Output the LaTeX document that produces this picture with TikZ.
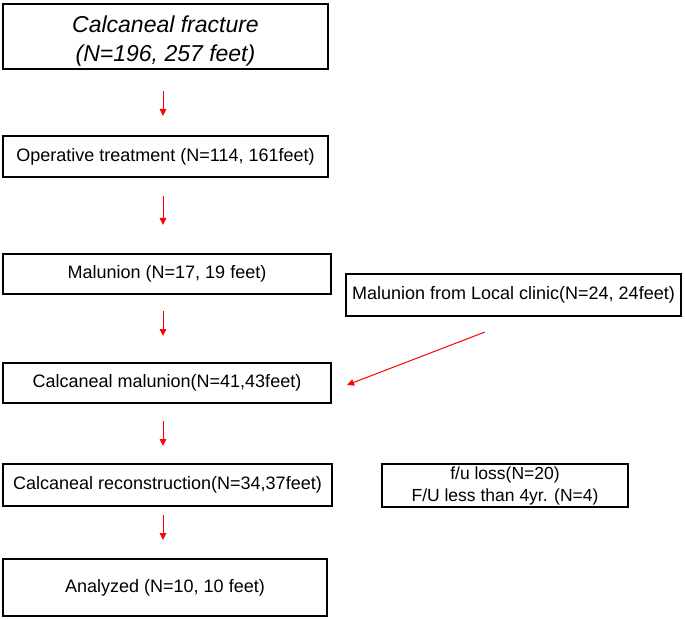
\documentclass[tikz,border=0pt]{standalone}
\usepackage{fontspec}
\setmainfont{Liberation Sans}
\usetikzlibrary{arrows.meta}
\begin{document}
\begin{tikzpicture}[x=1pt,y=-1pt,
  box/.style={draw=black,line width=2pt,rectangle,inner sep=0pt,align=center,font=\fontsize{18}{21}\selectfont},
  redarrow/.style={draw=red,line width=1pt,-{Triangle[length=7pt,width=6.5pt]}}]
\useasboundingbox (0,0) rectangle (685,620);
\node[box,minimum width=325pt,minimum height=65pt,font=\fontsize{23}{29}\selectfont\itshape] (b1) at (165.5,36.5) {\raisebox{-4.5pt}[\height][\depth]{\begin{tabular}{@{}c@{}}Calcaneal fracture\\(N=196, 257 feet)\end{tabular}}};
\node[box,minimum width=325pt,minimum height=41pt] (b2) at (165.5,156.5) {Operative treatment (N=114, 161feet)};
\node[box,minimum width=328pt,minimum height=40pt] (b3) at (167,274) {Malunion (N=17, 19 feet)};
\node[box,minimum width=335pt,minimum height=42pt] (bl) at (513.5,295) {Malunion from Local clinic(N=24, 24feet)};
\node[box,minimum width=328pt,minimum height=40pt] (b4) at (167,383) {Calcaneal malunion(N=41,43feet)};
\node[box,minimum width=329pt,minimum height=42pt] (b5) at (167.5,485) {Calcaneal reconstruction(N=34,37feet)};
\node[box,minimum width=246pt,minimum height=43pt,font=\fontsize{17.5}{22}\selectfont] (bf) at (505,485.5) {f/u loss(N=20)\\F/U less than 4yr. (N=4)};
\node[box,minimum width=324pt,minimum height=57pt] (b6) at (165,587.5) {Analyzed (N=10, 10 feet)};
\coordinate (a1s) at (163,91); \coordinate (a1e) at (163,116);
\coordinate (a2s) at (163,196); \coordinate (a2e) at (163,225);
\coordinate (a3s) at (163,311); \coordinate (a3e) at (163,336);
\coordinate (a4s) at (163,421); \coordinate (a4e) at (163,446);
\coordinate (a5s) at (163,515); \coordinate (a5e) at (163,540);
\coordinate (d1s) at (485,332); \coordinate (d1e) at (347,385);
\draw[redarrow] (a1s) -- (a1e);
\draw[redarrow] (a2s) -- (a2e);
\draw[redarrow] (a3s) -- (a3e);
\draw[redarrow] (a4s) -- (a4e);
\draw[redarrow] (a5s) -- (a5e);
\draw[redarrow] (d1s) -- (d1e);
\end{tikzpicture}
\end{document}
